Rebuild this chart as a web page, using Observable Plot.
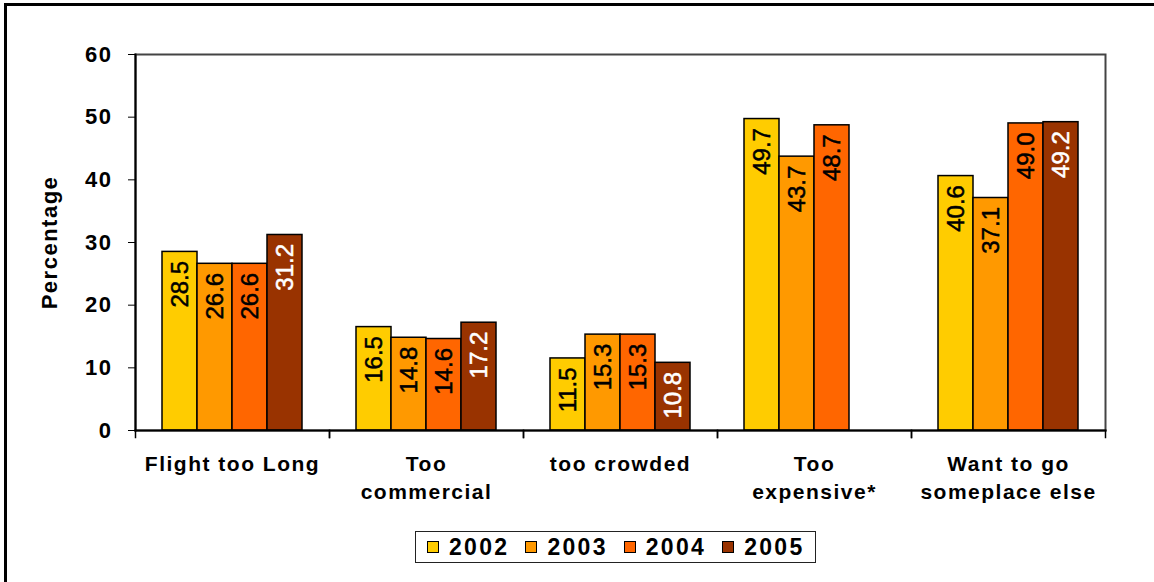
<!DOCTYPE html>
<html><head><meta charset="utf-8">
<script src="https://cdn.jsdelivr.net/npm/d3@7"></script>
<script src="https://cdn.jsdelivr.net/npm/@observablehq/plot@0.6"></script>
<style>
html,body{margin:0;padding:0;background:#fff;overflow:hidden;width:1154px;height:582px;}
#frame{position:absolute;left:4px;top:3px;width:1300px;height:700px;border:3px solid #000;z-index:5;background:transparent;pointer-events:none;}
#chart{position:absolute;left:0;top:0;}
#chart [aria-label="y-axis tick label"] text,
#chart [aria-label="y-axis label"] text,
#chart [aria-label="fx-axis tick label"] text{letter-spacing:1.5px;}
#legend{position:absolute;left:415px;top:531px;height:30px;border:1.5px solid #222;display:flex;align-items:center;padding:0 0 0 11px;
  font:bold 23px "Liberation Sans",Arial,sans-serif;letter-spacing:2.3px;background:#fff;box-sizing:content-box}
.item{display:flex;align-items:center;margin-right:16px}
.item:last-child{margin-right:10px}
.sw{width:10px;height:10px;border:1px solid #000;margin-right:10px}
</style></head><body>
<div id="frame"></div><div id="chart"></div><div id="legend"></div>
<script>
const categories = ["Flight too Long","Too\ncommercial","too crowded","Too\nexpensive*","Want to go\nsomeplace else"];
const years = ["2002","2003","2004","2005"];
const v2002 = [28.5,16.5,11.5,49.7,40.6];
const v2003 = [26.6,14.8,15.3,43.7,37.1];
const v2004 = [26.6,14.6,15.3,48.7,49.0];
const v2005 = [31.2,17.2,10.8,null,49.2];
const colors = ["#FFCC00","#FF9900","#FF6600","#993300"];
const yTicks = [0,10,20,30,40,50,60];
const yLabel = "Percentage";

const series = [v2002,v2003,v2004,v2005];
const data = [];
categories.forEach((c,i)=>years.forEach((y,j)=>{const v=series[j][i]; if(v!=null) data.push({category:c,year:y,value:v});}));

const W=1154,H=520,mT=54,mB=90,mL=134,mR=49;
const plot = Plot.plot({
  width:W,height:H,marginTop:mT,marginBottom:mB,marginLeft:mL,marginRight:mR,
  style:{fontFamily:'"Liberation Sans", Arial, sans-serif',fontWeight:"bold",color:"#000",background:"transparent",overflow:"visible"},
  fx:{domain:categories,padding:0,axis:null,label:null},
  x:{domain:years,paddingInner:0,paddingOuter:0.73,axis:null},
  y:{domain:[0,60],axis:null},
  color:{domain:years,range:colors},
  marks:[
    Plot.frame({facet:"super",stroke:"#444",strokeWidth:2}),
    Plot.barY(data,{fx:"category",x:"year",y:"value",fill:"year",stroke:"#000",strokeWidth:1.5}),
    Plot.text(data,{filter:d=>d.year!=="2005",fx:"category",x:"year",y:"value",text:d=>d.value.toFixed(1),rotate:-90,textAnchor:"end",dy:9,fill:"#000",stroke:"#000",strokeWidth:0.5,fontSize:24,fontWeight:"normal"}),
    Plot.text(data,{filter:d=>d.year==="2005",fx:"category",x:"year",y:"value",text:d=>d.value.toFixed(1),rotate:-90,textAnchor:"end",dy:9,fill:"#fff",stroke:"#fff",strokeWidth:0.5,fontSize:24,fontWeight:"normal"}),
    Plot.frame({facet:"super",anchor:"left",stroke:"#000",strokeWidth:2}),
    Plot.frame({facet:"super",anchor:"bottom",stroke:"#000",strokeWidth:2}),
    Plot.frame({anchor:"left",insetTop:H-mT-mB,insetBottom:-7,stroke:"#000",strokeWidth:1.5}),
    Plot.frame({anchor:"right",insetTop:H-mT-mB,insetBottom:-7,stroke:"#000",strokeWidth:1.5}),
    Plot.axisY(yTicks,{anchor:"left",tickSize:7,tickPadding:16,fontSize:22,label:yLabel,labelAnchor:"center",labelOffset:94,labelArrow:"none"}),
    Plot.axisFx({anchor:"bottom",tickSize:0,tickPadding:20,fontSize:21,lineHeight:1.35,label:null})
  ]
});
document.getElementById("chart").appendChild(plot);

const lg = document.getElementById("legend");
years.forEach((y,i)=>{
  const it=document.createElement("div");it.className="item";
  const sw=document.createElement("div");sw.className="sw";sw.style.background=colors[i];
  const t=document.createElement("span");t.textContent=y;
  it.appendChild(sw);it.appendChild(t);lg.appendChild(it);
});
</script>
</body></html>
